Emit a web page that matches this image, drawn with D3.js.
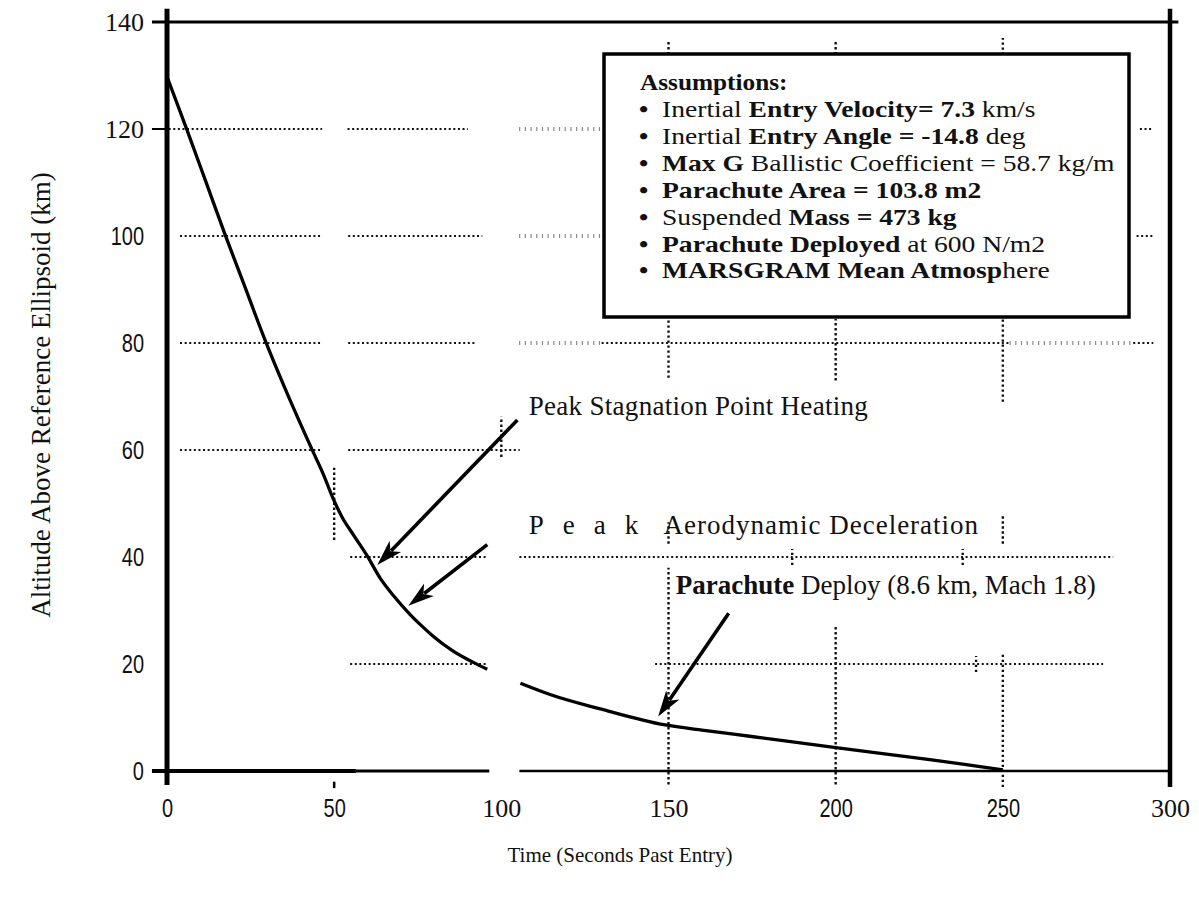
<!DOCTYPE html>
<html><head><meta charset="utf-8">
<script src="https://cdn.jsdelivr.net/npm/d3@7"></script>
<style>
body{margin:0;background:#fff;}
svg{display:block;}
.serif{font-family:"Liberation Serif","Times New Roman",serif;}
.narrow{font-family:"Liberation Sans","Arial",sans-serif;}
</style></head>
<body>
<svg id="chart" width="1199" height="900"></svg>
<script>
// ---- data (seconds past entry, altitude km) ----
const timeSec = [0, 6, 12, 17.4, 23, 29.3, 36, 43.3, 46.8, 49.7, 52.5, 55.7, 59.8, 63.8, 67.7, 72.8, 75.7, 79.6, 85.6, 91.6, 95.8, null, 105.7, 115, 129.6, 149, 160.6, 175.4, 199.5, 227, 238, 250];
const altitudeKm = [129.8, 119.8, 109.5, 100.2, 91.0, 80.6, 70.5, 60.2, 55.4, 50.9, 47.3, 44.2, 40.3, 36.0, 32.8, 29.2, 27.4, 25.2, 22.4, 20.3, 19.0, null, 16.4, 14.2, 11.6, 8.6, 7.6, 6.4, 4.4, 2.2, 1.3, 0.2];
const xTicks = [0, 50, 100, 150, 200, 250, 300];
const yTicks = [0, 20, 40, 60, 80, 100, 120, 140];
const serifTicksX = [100, 150, 300];
const serifTicksY = [120, 140];

// horizontal grid pieces: [altitude, tStart, tEnd, kind]
const hGrid = [
  [120, 0.5, 46.4, "dot"], [120, 54, 90, "dot"], [120, 105.3, 130, "hatch"], [120, 291, 295, "dot"],
  [100, 3.9, 46.4, "dot"], [100, 54.2, 94.3, "dot"], [100, 105.3, 130, "hatch"], [100, 290, 295, "dot"],
  [80, 3.9, 46.4, "dot"], [80, 54.2, 92.2, "dot"], [80, 105.3, 130, "hatch"], [80, 130, 252, "dot"], [80, 252, 289, "hatch"], [80, 289, 295, "dot"],
  [60, 3.9, 46.4, "dot"], [60, 54.2, 105.5, "dot"],
  [40, 54.8, 95.8, "dot"], [40, 105.4, 283, "dot"],
  [20, 54.8, 95.8, "dot"], [20, 146, 280, "dot"]
];
// vertical grid pieces: [time, altStart, altEnd]
const vGrid = [
  [50, 43.2, 56.7], [100, 58.7, 66.2],
  [150, 133, 136.5], [150, 73.5, 84.5], [150, 42.5, 46.5], [150, -2.5, 38],
  [200, 133, 136.5], [200, 73, 84.5], [200, -2.5, 27],
  [250, 132, 137], [250, 69, 84.5], [250, 42.5, 48], [250, -3, 22],
  [187, 38.5, 41.5], [238, 38.5, 41.5], [242, 18.5, 21.5]
];
// annotation arrows: [tStart, altStart, tTip, altTip]
const arrows = [
  [104.8, 65.6, 62.9, 38.5],
  [95.8, 42.3, 72.2, 30.9],
  [168.0, 29.5, 146.9, 10.2]
];
const assumptions = [
  [["Inertial ", false], ["Entry Velocity= 7.3", true], [" km/s", false]],
  [["Inertial ", false], ["Entry Angle = -14.8", true], [" deg", false]],
  [["Max G", true], [" Ballistic Coefficient = 58.7 kg/m", false]],
  [["Parachute Area = 103.8 m2", true]],
  [["Suspended ", false], ["Mass = 473 kg", true]],
  [["Parachute Deployed", true], [" at 600 N/m2", false]],
  [["MARSGRAM Mean Atmosp", true], ["here", false]]
];

const svg = d3.select("#chart");
const x = d3.scaleLinear().domain([0, 300]).range([167, 1170]);
const y = d3.scaleLinear().domain([0, 140]).range([771, 22]);

// grid
svg.append("g").selectAll("line").data(hGrid).join("line")
  .attr("x1", d => x(d[1])).attr("x2", d => x(d[2]))
  .attr("y1", d => y(d[0])).attr("y2", d => y(d[0]))
  .attr("stroke", d => d[3] === "hatch" ? "#8a8a8a" : "#111")
  .attr("stroke-width", d => d[3] === "hatch" ? 4 : 2.2)
  .attr("stroke-dasharray", d => d[3] === "hatch" ? "1.2,4.5" : "2,2.6");
svg.append("g").selectAll("line").data(vGrid).join("line")
  .attr("x1", d => x(d[0])).attr("x2", d => x(d[0]))
  .attr("y1", d => y(d[1])).attr("y2", d => y(d[2]))
  .attr("stroke", "#111").attr("stroke-width", 2.4).attr("stroke-dasharray", "2.4,2.6");

// frame
const frame = svg.append("g").attr("stroke", "#000").attr("fill", "none");
frame.append("line").attr("x1", x(0)).attr("x2", x(0)).attr("y1", y(142.5)).attr("y2", y(-2.6)).attr("stroke-width", 5);
frame.append("line").attr("x1", x(300)).attr("x2", x(300)).attr("y1", y(142.5)).attr("y2", y(-3)).attr("stroke-width", 4.5);
frame.append("line").attr("x1", x(-4.5)).attr("x2", x(302.5)).attr("y1", y(140)).attr("y2", y(140)).attr("stroke-width", 3.2);
frame.append("line").attr("x1", x(-4.5)).attr("x2", x(56.5)).attr("y1", y(0)).attr("y2", y(0)).attr("stroke-width", 4);
frame.append("line").attr("x1", x(56.5)).attr("x2", x(96.4)).attr("y1", y(0)).attr("y2", y(0)).attr("stroke-width", 3);
frame.append("line").attr("x1", x(105.4)).attr("x2", x(300)).attr("y1", y(0)).attr("y2", y(0)).attr("stroke-width", 2.6);
frame.append("line").attr("x1", x(-4.5)).attr("x2", x(0)).attr("y1", y(120)).attr("y2", y(120)).attr("stroke-width", 2);
frame.append("line").attr("x1", x(50)).attr("x2", x(50)).attr("y1", y(-2)).attr("y2", y(-3.2)).attr("stroke-width", 2.5);

// axes (labels only)
const yAxis = d3.axisLeft(y).tickValues(yTicks).tickSize(0).tickPadding(0).tickFormat(d3.format("d"));
const gy = svg.append("g").attr("transform", `translate(${x(0) - 23},0)`).call(yAxis);
gy.select(".domain").remove();
gy.selectAll("text")
  .attr("class", d => serifTicksY.includes(d) ? "serif" : "narrow")
  .attr("font-size", d => serifTicksY.includes(d) ? 26 : 25)
  .attr("transform", d => serifTicksY.includes(d) ? null : "scale(0.8,1)")
  .attr("fill", "#111");
const xAxis = d3.axisBottom(x).tickValues(xTicks).tickSize(0).tickPadding(0).tickFormat(d3.format("d"));
const gx = svg.append("g").attr("transform", `translate(0,${y(0) + 28})`).call(xAxis);
gx.select(".domain").remove();
gx.selectAll("text")
  .attr("class", d => serifTicksX.includes(d) ? "serif" : "narrow")
  .attr("font-size", d => serifTicksX.includes(d) ? 26 : 25)
  .attr("transform", d => serifTicksX.includes(d) ? null : "scale(0.8,1)")
  .attr("fill", "#111");

// trajectory
const pts = timeSec.map((t, i) => [t, altitudeKm[i]]);
svg.append("path").datum(pts)
  .attr("d", d3.line().defined(d => d[0] !== null).x(d => x(d[0])).y(d => y(d[1])).curve(d3.curveMonotoneX))
  .attr("fill", "none").attr("stroke", "#000").attr("stroke-width", 3.3).attr("stroke-linejoin", "round");

// arrows
function arrow(g, x1, y1, x2, y2) {
  const ang = Math.atan2(y2 - y1, x2 - x1);
  const L = 26, W = 8;
  const bx = x2 - L * Math.cos(ang), by = y2 - L * Math.sin(ang);
  g.append("line").attr("x1", x1).attr("y1", y1).attr("x2", bx + 6 * Math.cos(ang)).attr("y2", by + 6 * Math.sin(ang))
    .attr("stroke", "#000").attr("stroke-width", 3.6);
  const px = -Math.sin(ang) * W, py = Math.cos(ang) * W;
  g.append("path").attr("d", `M${x2},${y2}L${bx + px},${by + py}L${bx + 7 * Math.cos(ang)},${by + 7 * Math.sin(ang)}L${bx - px},${by - py}Z`).attr("fill", "#000");
}
const ga = svg.append("g");
arrows.forEach(a => arrow(ga, x(a[0]), y(a[1]), x(a[2]), y(a[3])));

// annotations
const ann = svg.append("g").attr("class", "serif").attr("font-size", 27).attr("fill", "#111");
ann.append("text").attr("x", x(108.2)).attr("y", y(66.6)).attr("letter-spacing", "0.3").text("Peak Stagnation Point Heating");
ann.append("text").attr("x", x(108.2)).attr("y", y(44.3)).attr("letter-spacing", "19").text("Peak");
ann.append("text").attr("x", x(148.5)).attr("y", y(44.3)).attr("letter-spacing", "1").text("Aerodynamic Deceleration");
const pd = ann.append("text").attr("x", x(152.2)).attr("y", y(33.0));
pd.append("tspan").attr("font-weight", "bold").text("Parachute");
pd.append("tspan").text(" Deploy (8.6 km, Mach 1.8)");

// assumptions box
const box = svg.append("g");
box.append("rect").attr("x", 604).attr("y", 54).attr("width", 525).attr("height", 263)
  .attr("fill", "#fff").attr("stroke", "#000").attr("stroke-width", 3.5);
const bt = box.append("g").attr("class", "serif").attr("font-size", 23).attr("fill", "#111");
bt.append("text").attr("transform", "translate(640,90) scale(1.1,1)").attr("font-weight", "bold").text("Assumptions:");
assumptions.forEach((line, i) => {
  const yy = 117 + i * 26.9;
  bt.append("text").attr("transform", `translate(639,${yy}) scale(1.15,1)`).attr("font-weight", "bold").text("•");
  const t = bt.append("text").attr("transform", `translate(662,${yy}) scale(1.2,1)`);
  line.forEach(seg => t.append("tspan").attr("font-weight", seg[1] ? "bold" : "normal").text(seg[0]));
});

// axis titles
svg.append("text").attr("class", "serif").attr("font-size", 21).attr("fill", "#111")
  .attr("text-anchor", "middle").attr("x", 620).attr("y", 862).text("Time (Seconds Past Entry)");
svg.append("text").attr("class", "serif").attr("font-size", 27).attr("fill", "#111")
  .attr("text-anchor", "middle").attr("transform", "translate(50,395) rotate(-90)")
  .text("Altitude Above Reference Ellipsoid (km)");
</script>
</body></html>
